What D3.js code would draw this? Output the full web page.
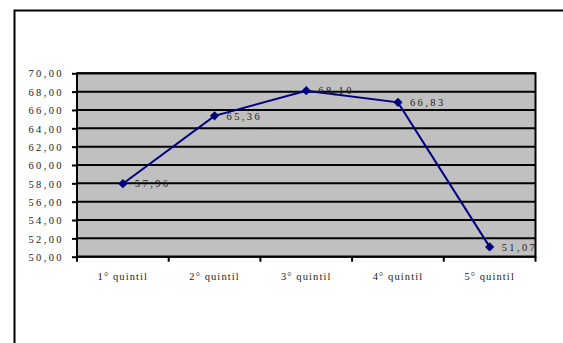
<!DOCTYPE html>
<html><head><meta charset="utf-8">
<script src="https://cdn.jsdelivr.net/npm/d3@7"></script>
<style>
body{margin:0;background:#fff;}
svg text{font-family:"Liberation Serif","Times New Roman",serif;font-size:10.5px;fill:#222;}
</style></head>
<body><svg id="c" width="563" height="343"></svg>
<script>
const categories = ["1° quintil","2° quintil","3° quintil","4° quintil","5° quintil"];
const values = [57.96, 65.36, 68.10, 66.83, 51.07];
const yTicks = [50,52,54,56,58,60,62,64,66,68,70];
const fmt = v => v.toFixed(2).replace(".", ",");

const svg = d3.select("#c");
const m = {l:77, t:73.3, r:535.5, b:256.7};
// outer frame
svg.append("rect").attr("x",14.5).attr("y",10.5).attr("width",600).attr("height",400)
  .attr("fill","none").attr("stroke","#000").attr("stroke-width",2);

const x = d3.scaleBand().domain(categories).range([m.l, m.r]);
const y = d3.scaleLinear().domain([50,70]).range([m.b, m.t]);

svg.append("rect").attr("x",m.l).attr("y",m.t).attr("width",m.r-m.l).attr("height",m.b-m.t)
  .attr("fill","#C0C0C0");
svg.append("g").selectAll("line").data(yTicks).join("line")
  .attr("x1",m.l).attr("x2",m.r).attr("y1",d=>y(d)).attr("y2",d=>y(d))
  .attr("stroke","#000").attr("stroke-width",2);
svg.append("rect").attr("x",m.l).attr("y",m.t).attr("width",m.r-m.l).attr("height",m.b-m.t)
  .attr("fill","none").attr("stroke","#000").attr("stroke-width",2);

const ya = svg.append("g").attr("transform",`translate(${m.l},0)`)
  .call(d3.axisLeft(y).tickValues(yTicks).tickFormat(fmt).tickSize(5).tickPadding(8));
ya.select(".domain").remove();
ya.selectAll("line").attr("stroke","#000").attr("stroke-width",2);
ya.selectAll("text").attr("font-size",null).attr("font-family",null).style("letter-spacing","2.4px").attr("dy","0.35em");

const xa = svg.append("g").attr("transform",`translate(0,${m.b})`)
  .call(d3.axisBottom(x).tickSize(0).tickPadding(16));
xa.select(".domain").remove();
xa.selectAll("text").attr("font-size",null).attr("font-family",null).style("letter-spacing","1.1px");
// x tick marks at band boundaries
const bounds = categories.map(c=>x(c)).concat([m.r]);
svg.append("g").selectAll("line").data(bounds).join("line")
  .attr("x1",d=>d).attr("x2",d=>d).attr("y1",m.b).attr("y2",m.b+5)
  .attr("stroke","#000").attr("stroke-width",2);

const cx = c => x(c) + x.bandwidth()/2;
const line = d3.line().x((d,i)=>cx(categories[i])).y(d=>y(d));
svg.append("path").datum(values).attr("d",line).attr("fill","none")
  .attr("stroke","#000080").attr("stroke-width",2);
svg.append("g").selectAll("path").data(values).join("path")
  .attr("d",d3.symbol(d3.symbolDiamond2 || d3.symbolDiamond,55))
  .attr("transform",(d,i)=>`translate(${cx(categories[i])},${y(d)})`)
  .attr("fill","#000080");
svg.append("g").selectAll("text").data(values).join("text")
  .attr("x",(d,i)=>cx(categories[i])+12).attr("y",d=>y(d)).attr("dy","0.35em")
  .style("letter-spacing","2.4px").attr("fill","#333").text(fmt);
</script></body></html>
